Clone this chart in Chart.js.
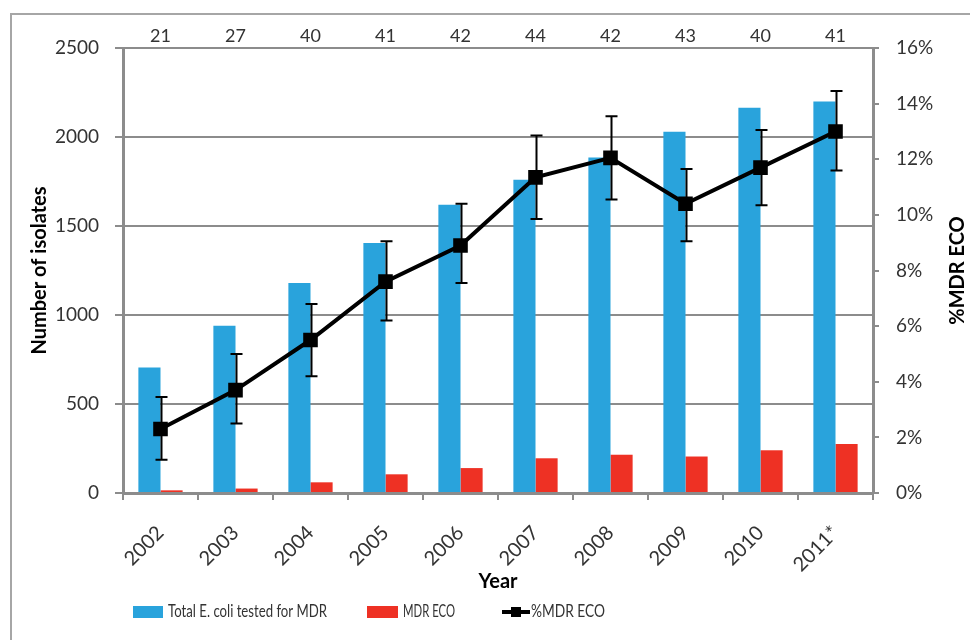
<!DOCTYPE html>
<html>
<head>
<meta charset="utf-8">
<script src="https://cdn.jsdelivr.net/npm/chart.js@4.4.1/dist/chart.umd.min.js"></script>
<style>
  html, body { margin: 0; padding: 0; background: #fff; }
  #wrap { width: 970px; height: 640px; position: relative; }
</style>
</head>
<body>
<div id="wrap"><canvas id="chart" width="970" height="640"></canvas></div>
<script>
// data
const years = ['2002', '2003', '2004', '2005', '2006', '2007', '2008', '2009', '2010', '2011*'];
const topCounts = [21, 27, 40, 41, 42, 44, 42, 43, 40, 41];
const totalTested = [705, 940, 1180, 1405, 1620, 1760, 1885, 2030, 2165, 2200];
const mdrEco = [15, 25, 60, 105, 140, 195, 215, 205, 240, 275];
const pctMdr = [2.3, 3.7, 5.5, 7.6, 8.9, 11.35, 12.05, 10.4, 11.7, 13.0];
const pctUpper = [3.45, 5.0, 6.8, 9.05, 10.4, 12.85, 13.55, 11.65, 13.05, 14.45];
const pctLower = [1.2, 2.5, 4.2, 6.2, 7.55, 9.85, 10.55, 9.05, 10.35, 11.6];
const leftTicks = [0, 500, 1000, 1500, 2000, 2500];
const rightTicks = [0, 2, 4, 6, 8, 10, 12, 14, 16];

const FONT = 'Lato, "Open Sans", sans-serif';
const gray = '#8c8c8c';
const txt = '#333333';
const blue = '#29a3dc';
const red = '#ee3124';

const extras = {
  id: 'extras',
  beforeDraw(chart) {
    const ctx = chart.ctx;
    ctx.save();
    ctx.strokeStyle = '#a6a6a6';
    ctx.lineWidth = 2;
    ctx.beginPath();
    ctx.moveTo(11, 640);
    ctx.lineTo(11, 14);
    ctx.lineTo(970, 14);
    ctx.stroke();
    ctx.restore();
  },
  afterDatasetsDraw(chart) {
    // error bars on the percentage line
    const ctx = chart.ctx;
    const x = chart.scales.x, y2 = chart.scales.y2;
    ctx.save();
    ctx.strokeStyle = '#000';
    ctx.lineWidth = 2;
    for (let i = 0; i < years.length; i++) {
      const px = x.getPixelForValue(i) + 1;
      const top = y2.getPixelForValue(pctUpper[i]);
      const bot = y2.getPixelForValue(pctLower[i]);
      ctx.beginPath();
      ctx.moveTo(px, top); ctx.lineTo(px, bot);
      ctx.moveTo(px - 6, top); ctx.lineTo(px + 6, top);
      ctx.moveTo(px - 6, bot); ctx.lineTo(px + 6, bot);
      ctx.stroke();
    }
    ctx.restore();
  },
  afterDraw(chart) {
    const ctx = chart.ctx;
    const x = chart.scales.x;
    const area = chart.chartArea;
    ctx.save();
    // counts above the plot
    ctx.fillStyle = txt;
    ctx.font = '18px ' + FONT;
    ctx.textAlign = 'center';
    ctx.textBaseline = 'middle';
    topCounts.forEach((n, i) => {
      ctx.fillText(String(n), x.getPixelForValue(i), area.top - 12);
    });

    // axis titles
    ctx.fillStyle = '#000';
    ctx.font = 'bold 20px ' + FONT;
    ctx.save();
    ctx.translate(40, (area.top + area.bottom) / 2);
    ctx.rotate(-Math.PI / 2);
    ctx.fillText('Number of isolates', 0, 0);
    ctx.restore();
    ctx.save();
    ctx.translate(958, (area.top + area.bottom) / 2);
    ctx.rotate(-Math.PI / 2);
    ctx.fillText('%MDR ECO', 0, 0);
    ctx.restore();
    ctx.fillText('Year', (area.left + area.right) / 2, 582);

    // legend (text squeezed to the reference widths)
    const ly = 612;
    ctx.font = '17px ' + FONT;
    ctx.textAlign = 'left';
    ctx.fillStyle = blue;
    ctx.fillRect(133, ly - 6, 30, 12);
    ctx.fillStyle = txt;
    ctx.fillText('Total E. coli tested for MDR', 168, ly, 159);
    ctx.fillStyle = red;
    ctx.fillRect(367, ly - 6, 31, 12);
    ctx.fillStyle = txt;
    ctx.fillText('MDR ECO', 403, ly, 52);
    ctx.strokeStyle = '#000';
    ctx.lineWidth = 4;
    ctx.beginPath();
    ctx.moveTo(502, ly); ctx.lineTo(530, ly);
    ctx.stroke();
    ctx.fillStyle = '#000';
    ctx.fillRect(511, ly - 5, 10, 10);
    ctx.fillStyle = txt;
    ctx.fillText('%MDR ECO', 531, ly, 74);
    ctx.restore();
  }
};

new Chart(document.getElementById('chart'), {
  data: {
    labels: years,
    datasets: [
      {
        type: 'line',
        label: '%MDR ECO',
        data: pctMdr,
        yAxisID: 'y2',
        borderColor: '#000',
        backgroundColor: '#000',
        borderWidth: 4,
        pointStyle: 'rect',
        pointRadius: 7.5,
        pointHoverRadius: 7.5,
        tension: 0,
        order: 0
      },
      {
        type: 'bar',
        label: 'Total E. coli tested for MDR',
        data: totalTested,
        yAxisID: 'y',
        backgroundColor: blue,
        barPercentage: 1,
        categoryPercentage: 0.59,
        order: 1
      },
      {
        type: 'bar',
        label: 'MDR ECO',
        data: mdrEco,
        yAxisID: 'y',
        backgroundColor: red,
        barPercentage: 1,
        categoryPercentage: 0.59,
        order: 1
      }
    ]
  },
  options: {
    responsive: false,
    animation: false,
    devicePixelRatio: 1,
    layout: { padding: { top: 48, left: 0, right: 0, bottom: 0 } },
    plugins: { legend: { display: false }, tooltip: { enabled: false } },
    scales: {
      x: {
        grid: { offset: true, drawOnChartArea: false, color: gray, lineWidth: 2, tickLength: 7 },
        border: { color: gray, width: 3 },
        ticks: { font: { family: FONT, size: 20 }, color: txt, minRotation: 45, maxRotation: 45, padding: 21 },
        afterFit: s => { s.height = 147; }
      },
      y: {
        position: 'left',
        min: 0,
        max: 2500,
        afterBuildTicks: s => { s.ticks = leftTicks.map(v => ({ value: v })); },
        ticks: { font: { family: FONT, size: 19 }, color: txt, padding: 16, callback: v => String(v) },
        grid: { color: gray, lineWidth: 2, tickLength: 8 },
        border: { color: gray, width: 3 },
        afterFit: s => { s.width = 123; }
      },
      y2: {
        position: 'right',
        min: 0,
        max: 16,
        afterBuildTicks: s => { s.ticks = rightTicks.map(v => ({ value: v })); },
        ticks: { font: { family: FONT, size: 19 }, color: txt, padding: 17, callback: v => v + '%' },
        grid: { drawOnChartArea: false, color: gray, lineWidth: 2, tickLength: 6 },
        border: { color: gray, width: 3 },
        afterFit: s => { s.width = 97; }
      }
    }
  },
  plugins: [extras]
});
</script>
</body>
</html>
